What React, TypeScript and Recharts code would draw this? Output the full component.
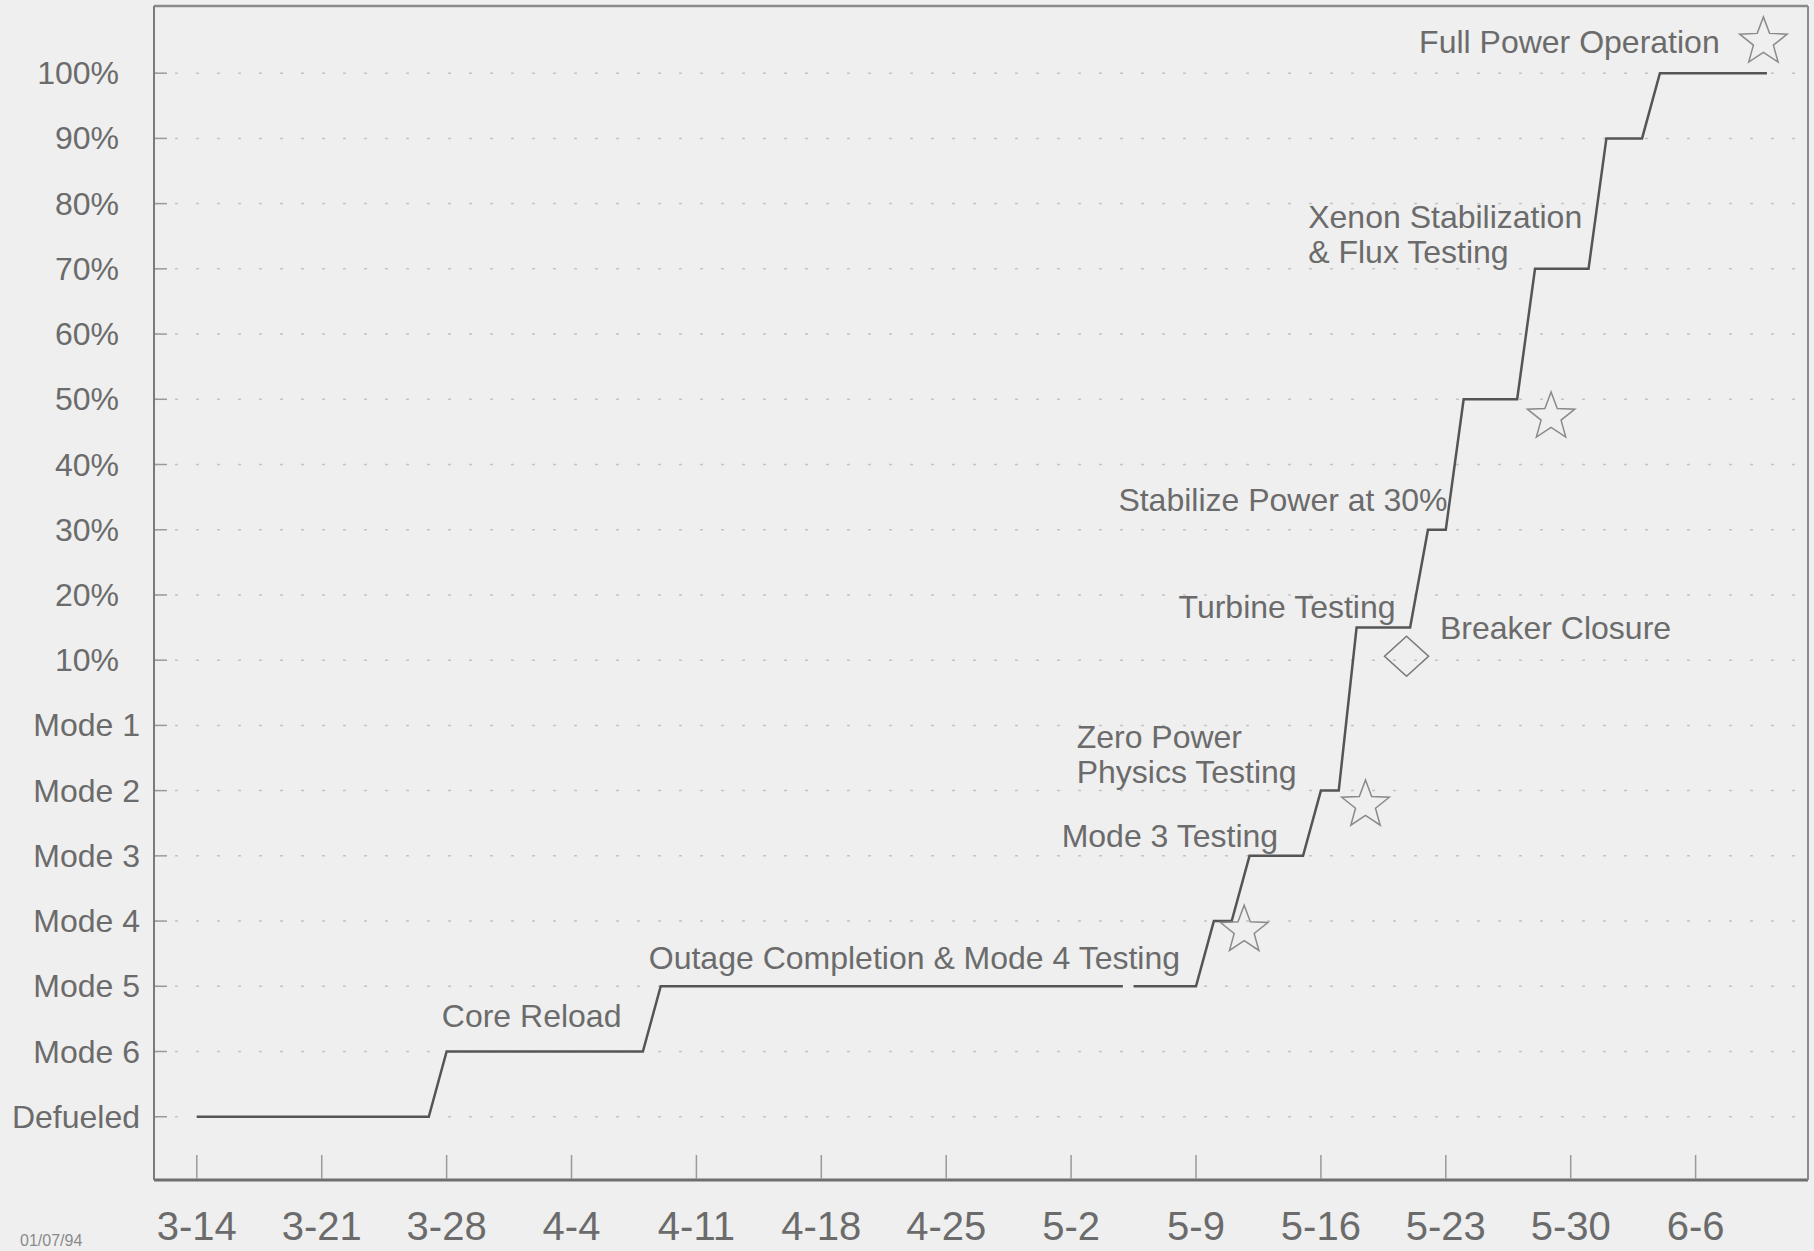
import { ComposedChart, Line, Scatter, XAxis, YAxis, CartesianGrid } from 'recharts';

const FONT = "'Liberation Sans', Arial, Helvetica, sans-serif";
const TEXT = '#6b6b6b';

const levelLabels = [
  'Defueled', 'Mode 6', 'Mode 5', 'Mode 4', 'Mode 3', 'Mode 2', 'Mode 1',
  '10%', '20%', '30%', '40%', '50%', '60%', '70%', '80%', '90%', '100%',
];
const levelTicks = levelLabels.map((_, i) => i);

const dateLabels = ['3-14', '3-21', '3-28', '4-4', '4-11', '4-18', '4-25', '5-2', '5-9', '5-16', '5-23', '5-30', '6-6'];
const dateTicks = dateLabels.map((_, i) => i * 7);

// days after 3-14 / level index on the mode-power scale (null = break in the line)
const planDays = [0, 13, 14, 25, 26, 51.9, 52.2, 52.5, 56, 57, 58, 59, 62, 63, 64, 65, 68, 69, 70, 71, 74, 75, 78, 79, 81, 82, 88];
const planLevels = [0, 0, 1, 1, 2, 2, null, 2, 2, 3, 3, 4, 4, 5, 5, 7.5, 7.5, 9, 9, 11, 11, 13, 13, 15, 15, 16, 16];

const milestoneDays = [58.7, 65.5, 67.8, 75.9, 87.8];
const milestoneLevels = [2.86, 4.78, 7.06, 10.73, 16.48];
const milestoneKinds = ['star', 'star', 'diamond', 'star', 'star'];

const noteLines = [
  ['Full Power Operation'],
  ['Xenon Stabilization', '& Flux Testing'],
  ['Stabilize Power at 30%'],
  ['Turbine Testing'],
  ['Breaker Closure'],
  ['Zero Power', 'Physics Testing'],
  ['Mode 3 Testing'],
  ['Outage Completion & Mode 4 Testing'],
  ['Core Reload'],
];
const noteDays = [85.35, 62.29, 51.65, 55.02, 69.67, 49.31, 48.47, 25.33, 13.73];
const noteLevels = [16.48, 13.79, 9.46, 7.81, 7.49, 5.82, 4.31, 2.43, 1.54];
const noteAnchors = ['end', 'start', 'start', 'start', 'start', 'start', 'start', 'start', 'start'];

const planData = planDays.map((d, i) => ({ day: d, level: planLevels[i] }));
const milestoneData = milestoneDays.map((d, i) => ({ day: d, level: milestoneLevels[i], kind: milestoneKinds[i] }));
const noteData = noteDays.map((d, i) => ({ day: d, level: noteLevels[i], lines: noteLines[i], anchor: noteAnchors[i] }));

function starPoints(cx: number, cy: number, R: number, r: number) {
  const pts: string[] = [];
  for (let i = 0; i < 10; i++) {
    const rad = i % 2 === 0 ? R : r;
    const a = -Math.PI / 2 + (i * Math.PI) / 5;
    pts.push(`${cx + rad * Math.cos(a)},${cy + rad * Math.sin(a)}`);
  }
  return pts.join(' ');
}

// eslint-disable-next-line @typescript-eslint/no-explicit-any
function MilestoneShape(props: any) {
  const { cx, cy, payload } = props;
  if (payload.kind === 'diamond') {
    const pts = `${cx},${cy - 20} ${cx + 22},${cy} ${cx},${cy + 20} ${cx - 22},${cy}`;
    return <polygon points={pts} fill="none" stroke="#7a7a7a" strokeWidth={1.6} />;
  }
  return <polygon points={starPoints(cx, cy, 25, 10.5)} fill="none" stroke="#8a8a8a" strokeWidth={1.5} />;
}

// eslint-disable-next-line @typescript-eslint/no-explicit-any
function NoteShape(props: any) {
  const { cx, cy, payload } = props;
  return (
    <text x={cx} y={cy} textAnchor={payload.anchor} fontFamily={FONT} fontSize={32} fill={TEXT}>
      {payload.lines.map((l: string, i: number) => (
        <tspan key={l} x={cx} dy={i === 0 ? 11 : 35}>{l}</tspan>
      ))}
    </text>
  );
}

// eslint-disable-next-line @typescript-eslint/no-explicit-any
function LevelTick(props: any) {
  const { x, y, payload } = props;
  const label = levelLabels[payload.value] ?? '';
  const pct = label.endsWith('%');
  return (
    <g>
      <line x1={x + 1} x2={x + 13} y1={y} y2={y} stroke="#9a9a9a" strokeWidth={1.5} />
      <text x={x - (pct ? 35 : 14)} y={y} dy={11} textAnchor="end" fontFamily={FONT} fontSize={32} fill={TEXT}>
        {label}
      </text>
    </g>
  );
}

// eslint-disable-next-line @typescript-eslint/no-explicit-any
function DateTick(props: any) {
  const { x, y, payload } = props;
  const label = dateLabels[dateTicks.indexOf(payload.value)] ?? '';
  return (
    <g>
      <line x1={x} x2={x} y1={y - 1} y2={y - 25} stroke="#9a9a9a" strokeWidth={1.5} />
      <text x={x} y={y + 60} textAnchor="middle" fontFamily={FONT} fontSize={40} fill={TEXT}>
        {label}
      </text>
    </g>
  );
}

const X_DOMAIN = [-2.4, 90.3];
const Y_DOMAIN = [-0.97, 17.03];

export default function App() {
  return (
    <div
      style={{
        position: 'absolute',
        left: 0,
        top: 0,
        width: 1814,
        height: 1251,
        background: '#efefef',
        fontFamily: FONT,
        overflow: 'hidden',
      }}
    >
      <ComposedChart width={1814} height={1251} margin={{ top: 5, right: 5, left: 153, bottom: 70 }}>
        <CartesianGrid
          horizontal
          vertical={false}
          horizontalValues={levelTicks}
          stroke="#c4c4c4"
          strokeWidth={1.5}
          strokeDasharray="3 18"
        />
        <XAxis
          dataKey="day"
          type="number"
          domain={X_DOMAIN}
          ticks={dateTicks}
          interval={0}
          allowDataOverflow
          height={1}
          tickSize={0}
          tickMargin={0}
          tickLine={false}
          tick={<DateTick />}
          axisLine={{ stroke: '#6e6e6e', strokeWidth: 3 }}
        />
        <XAxis
          xAxisId="top"
          orientation="top"
          type="number"
          domain={X_DOMAIN}
          allowDataOverflow
          height={1}
          tick={false}
          tickLine={false}
          axisLine={{ stroke: '#8a8a8a', strokeWidth: 2.5 }}
        />
        <YAxis
          dataKey="level"
          type="number"
          domain={Y_DOMAIN}
          ticks={levelTicks}
          interval={0}
          allowDataOverflow
          width={1}
          tickSize={0}
          tickMargin={0}
          tickLine={false}
          tick={<LevelTick />}
          axisLine={{ stroke: '#7a7a7a', strokeWidth: 2 }}
        />
        <YAxis
          yAxisId="right"
          orientation="right"
          type="number"
          domain={Y_DOMAIN}
          allowDataOverflow
          width={1}
          tick={false}
          tickLine={false}
          axisLine={{ stroke: '#8a8a8a', strokeWidth: 2 }}
        />
        <Line
          data={planData}
          dataKey="level"
          type="linear"
          stroke="#555555"
          strokeWidth={2.5}
          dot={false}
          connectNulls={false}
          isAnimationActive={false}
        />
        <Scatter data={milestoneData} dataKey="level" shape={<MilestoneShape />} isAnimationActive={false} />
        <Scatter data={noteData} dataKey="level" shape={<NoteShape />} isAnimationActive={false} />
      </ComposedChart>
      <div
        style={{
          position: 'absolute',
          left: 20,
          top: 1232,
          fontSize: 16,
          color: '#8a8a8a',
          lineHeight: '18px',
        }}
      >
        01/07/94
      </div>
    </div>
  );
}
